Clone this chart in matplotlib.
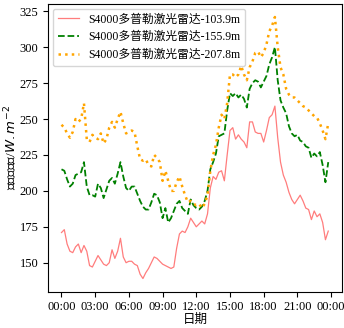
import matplotlib
matplotlib.use('Agg')
import matplotlib.pyplot as plt
import matplotlib.dates as mdates
import pandas as pd

plt.rcParams['font.family'] = ['Liberation Serif', 'Noto Sans CJK SC']
plt.rcParams['axes.unicode_minus'] = False

# 15-minute wind power density
times = pd.date_range('2021-01-01 00:00', periods=96, freq='15min')

h103 = [171, 173, 163, 158, 157, 161, 163, 157, 162, 158, 148, 147, 151, 155, 152, 149,
        148, 150, 159, 153, 158, 167, 154, 150, 151, 151, 149, 148, 142, 139, 143, 146,
        150, 154, 153, 151, 149, 148, 147, 146, 147, 160, 170, 172, 171, 175, 181, 178,
        175, 177, 179, 177, 184, 202, 210, 208, 213, 214, 207, 225, 242, 244, 236, 239,
        236, 234, 230, 248, 248, 241, 240, 240, 234, 242, 251, 253, 259, 237, 220, 211,
        206, 199, 194, 191, 194, 197, 193, 188, 187, 180, 186, 182, 184, 178, 166, 172]

h155 = [215, 214, 208, 203, 205, 211, 212, 213, 220, 203, 197, 197, 196, 205, 202, 195,
        201, 207, 209, 205, 212, 220, 210, 202, 200, 203, 203, 198, 193, 189, 187, 187,
        192, 198, 197, 192, 181, 188, 178, 181, 186, 191, 193, 188, 186, 184, 194, 190,
        188, 187, 189, 193, 200, 215, 220, 226, 238, 239, 240, 256, 268, 266, 268, 265,
        267, 264, 258, 271, 275, 277, 276, 272, 276, 280, 288, 293, 300, 277, 263, 258,
        254, 245, 240, 238, 239, 235, 234, 231, 230, 223, 226, 224, 227, 218, 206, 220]

h207 = [246, 244, 240, 237, 241, 250, 248, 250, 261, 236, 234, 239, 237, 236, 240, 233,
        236, 244, 248, 244, 250, 255, 247, 240, 241, 242, 241, 231, 222, 221, 222, 218,
        217, 225, 223, 220, 207, 214, 207, 200, 200, 206, 210, 203, 197, 192, 193, 191,
        190, 191, 188, 191, 197, 214, 225, 232, 244, 253, 250, 261, 281, 281, 279, 281,
        287, 281, 277, 286, 290, 296, 297, 293, 296, 302, 311, 315, 321, 300, 286, 281,
        271, 267, 265, 265, 263, 261, 259, 258, 256, 254, 252, 251, 247, 242, 236, 247]

labels = ['S4000多普勒激光雷达-103.9m', 'S4000多普勒激光雷达-155.9m', 'S4000多普勒激光雷达-207.8m']

fig = plt.figure(figsize=(3.44, 3.28), dpi=100)
ax = fig.add_axes([0.140, 0.111, 0.853, 0.877])

ax.plot(times, h103, color='#ff6666', alpha=0.85, linewidth=0.9, linestyle='-', label=labels[0])
ax.plot(times, h155, color='green', linewidth=1.3, linestyle='--', label=labels[1])
ax.plot(times, h207, color='orange', linewidth=1.8, linestyle=':', label=labels[2])

ax.xaxis.set_major_locator(mdates.HourLocator(byhour=range(0, 24, 3)))
ax.xaxis.set_major_formatter(mdates.DateFormatter('%H:%M'))
ax.set_yticks([150, 175, 200, 225, 250, 275, 300, 325])
ax.tick_params(labelsize=9)

ax.set_xlabel('日期', fontsize=9)
ax.set_ylabel('风功率密度/$W.m^{-2}$', fontsize=9.5)
ax.xaxis.set_label_coords(0.5, -0.076)
ax.yaxis.set_label_coords(-0.1, 0.5)

ax.legend(loc='upper left', fontsize=8.5, handlelength=1.8, borderaxespad=0.4)

fig.savefig('out.png', dpi=100)
